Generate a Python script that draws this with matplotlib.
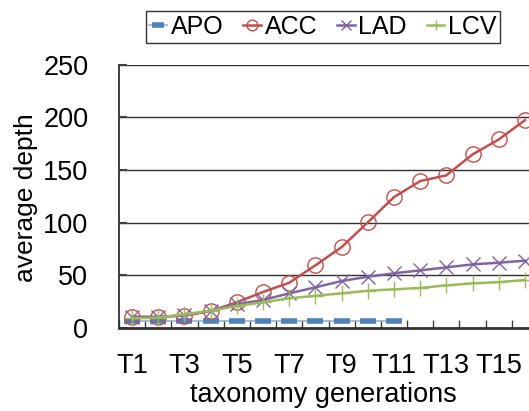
import matplotlib
matplotlib.use("Agg")
import matplotlib.pyplot as plt
import numpy as np

categories = [f"T{i}" for i in range(1, 17)]
apo = [7, 7, 7, 7, 7, 7, 7, 7, 7, 7, 7]
acc = [10.7, 10.7, 11.7, 16.1, 24.4, 34.2, 43, 59.5, 76.8, 100.3, 124.3, 139.5, 145, 164.8, 179, 197.3]
lad = [10.1, 10.1, 12.3, 16.4, 22.5, 26.6, 32.9, 38.6, 44.6, 48.7, 51.9, 54.7, 57.6, 60.4, 62, 63.9]
lcv = [9.2, 9.8, 13, 16.4, 20.9, 24.4, 28.2, 30.6, 32.9, 35.4, 36.7, 38, 40.5, 42.4, 43.6, 45.5]
yticks = [0, 50, 100, 150, 200, 250]

plt.rcParams['font.family'] = ['Liberation Sans', 'DejaVu Sans']
narrow = ['Liberation Sans Narrow', 'Liberation Sans', 'DejaVu Sans']

W, H = 529, 411
fig = plt.figure(figsize=(W/100, H/100), dpi=100)
left, right, bottom, top = 119, 538, 328, 64.7
ax = fig.add_axes([left/W, 1-bottom/H, (right-left)/W, (bottom-top)/H])

x_apo = np.arange(len(apo))
x = np.arange(len(categories))
ax.plot(x_apo, apo, color='#95B3D7', lw=1.2, marker='_', ms=12, mew=4,
        mec='#4F81BD', label='APO', zorder=3)
ax.plot(x, acc, color='#C0504D', lw=1.8, marker='o', ms=11, mfc='none',
        mec='#C0504D', mew=1.0, label='ACC', zorder=4)
ax.plot(x, lad, color='#8064A2', lw=1.8, marker='x', ms=10, mew=1.0,
        label='LAD', zorder=5)
ax.plot(x, lcv, color='#9BBB59', lw=1.8, marker='+', ms=11, mew=1.0,
        label='LCV', zorder=6)

ax.set_xlim(-0.5, len(categories)-0.5)
ax.set_ylim(0, 250)
ax.set_yticks(yticks)
ax.set_yticklabels([str(v) for v in yticks], fontsize=19.5, family=narrow)
ax.set_xticks(x[::2])
ax.set_xticklabels(categories[::2], fontsize=19.5, family=narrow)
ax.tick_params(axis='x', length=0, pad=18)
ax.set_xticks(np.arange(-0.5, len(categories), 1), minor=True)
ax.tick_params(axis='x', which='minor', direction='in', length=6, width=1, color='#404040')
ax.tick_params(axis='y', direction='in', length=6, width=1.5, color='#404040', pad=22)

for v in yticks[1:]:
    ax.axhline(v, color='#303030', lw=1.0, zorder=1)

for s in ['top', 'right']:
    ax.spines[s].set_visible(False)
ax.spines['left'].set_color('#303030')
ax.spines['left'].set_linewidth(1.3)
ax.spines['bottom'].set_color('#303030')
ax.spines['bottom'].set_linewidth(2)

ax.set_ylabel('average depth', fontsize=19)
ax.yaxis.set_label_coords((38-left)/(right-left), (bottom-197.5)/(bottom-top))
ax.set_xlabel('taxonomy generations', fontsize=19.5)
ax.xaxis.set_label_coords((323.5-left)/(right-left), (bottom-382)/(bottom-top))

leg = fig.legend(loc='center', bbox_to_anchor=(323/W, 1-27/H), ncol=4,
                 fontsize=18, frameon=True, fancybox=False, edgecolor='black',
                 handlelength=0.7, handletextpad=0.15, columnspacing=0.8,
                 borderpad=0.15, markerscale=0.7)
leg.get_frame().set_linewidth(1.0)

fig.savefig('out.png', dpi=100)
